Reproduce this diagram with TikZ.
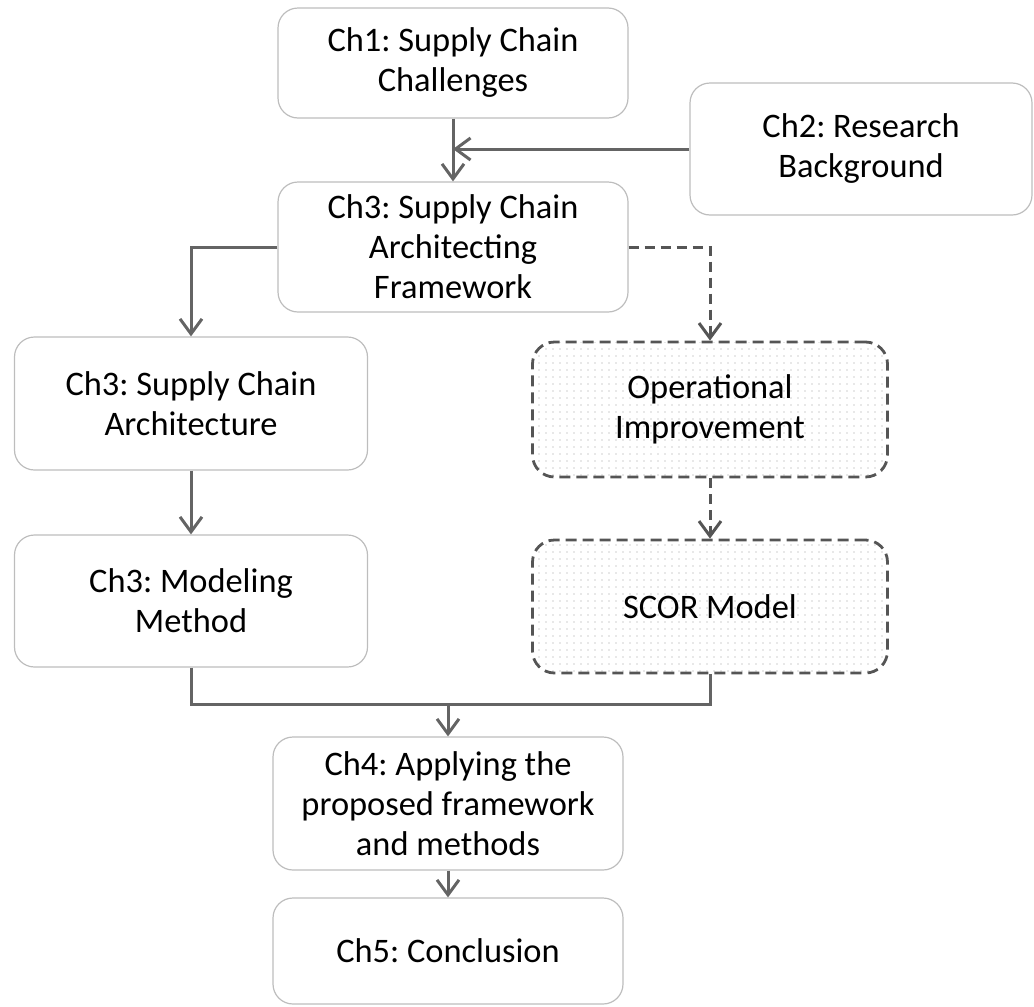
\documentclass[tikz,border=0pt]{standalone}
\usepackage{fontspec}
\setmainfont{Carlito}
\frenchspacing
\usetikzlibrary{arrows.meta,patterns.meta}
\definecolor{boxline}{HTML}{BDBDBD}
\definecolor{conn}{HTML}{646464}
\definecolor{dashline}{HTML}{555555}
\definecolor{dotcol}{HTML}{9C9C9C}
\begin{document}
\begin{tikzpicture}[x=1pt,y=-1pt,
  chapbox/.style={draw=boxline, line width=1.2pt, rounded corners=20pt,
    align=center, inner sep=0pt, font=\fontsize{34.4}{40}\selectfont},
  optbox/.style={draw=dashline, line width=2.8pt, dash pattern=on 11pt off 6pt,
    rounded corners=22pt, align=center, inner sep=0pt,
    pattern={Dots[distance=7pt, radius=0.7pt]}, pattern color=dotcol,
    font=\fontsize{34.4}{40}\selectfont},
  link/.style={draw=conn, line width=3pt},
  arr/.style={link, -{Straight Barb[length=15pt, width=22pt]}},
  dasharr/.style={draw=dashline, line width=3pt, dash pattern=on 10pt off 6pt,
    -{Straight Barb[length=15pt, width=22pt]}}
]
\useasboundingbox (0,0) rectangle (1034,1007);

% chapter boxes
\node[chapbox, minimum width=350pt, minimum height=110pt] (ch1) at (453,63)
  {Ch1: Supply Chain\\Challenges};
\node[chapbox, minimum width=342pt, minimum height=132pt] (ch2) at (861,149)
  {Ch2: Research\\Background};
\node[chapbox, minimum width=350pt, minimum height=130pt] (fw) at (453,247)
  {Ch3: Supply Chain\\Architecting\\Framework};
\node[chapbox, minimum width=353pt, minimum height=133pt] (arch) at (191,403.5)
  {Ch3: Supply Chain\\Architecture};
\node[chapbox, minimum width=353pt, minimum height=132pt] (model) at (191,601)
  {Ch3: Modeling\\Method};
\node[chapbox, minimum width=350pt, minimum height=133pt] (ch4) at (448,803.5)
  {Ch4: Applying the\\proposed framework\\and methods};
\node[chapbox, minimum width=350pt, minimum height=106pt] (ch5) at (448,951)
  {Ch5: Conclusion};

% optional branch boxes
\node[optbox, minimum width=355pt, minimum height=135pt] (op) at (710,409.5)
  {Operational\\Improvement};
\node[optbox, minimum width=355pt, minimum height=133pt] (scor) at (710,606.5)
  {SCOR Model};

% connectors
\coordinate (join) at (448,704);
\draw[arr] (ch1.south) -- (fw.north);
\draw[arr] (ch2.west) -- (ch2.west -| ch1.south);
\draw[arr] (fw.west) -| (arch.north);
\draw[dasharr] (fw.east) -| (op.north);
\draw[arr] (arch.south) -- (model.north);
\draw[dasharr] (op.south) -- (scor.north);
\draw[link] (model.south) |- (join) -| (scor.south);
\draw[arr] (join) -- (ch4.north);
\draw[arr] (ch4.south) -- (ch5.north);
\end{tikzpicture}
\end{document}
